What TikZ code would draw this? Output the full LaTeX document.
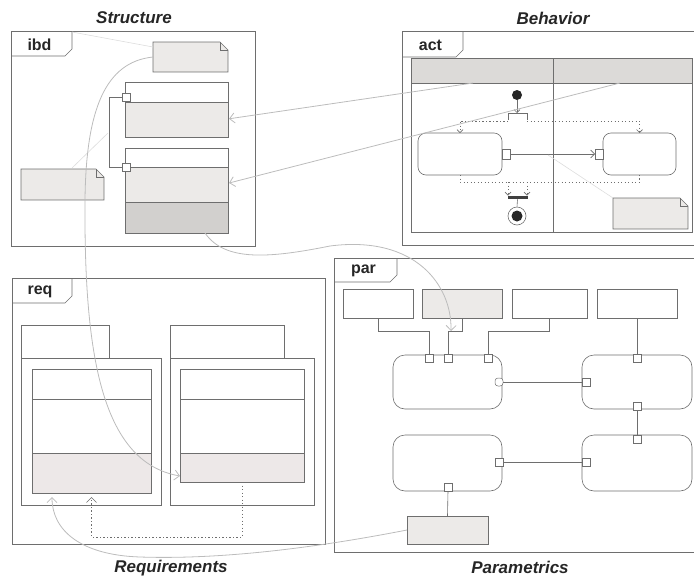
\documentclass[tikz,border=0pt]{standalone}
\usepackage{fontspec}
\setmainfont{Liberation Sans}
\usetikzlibrary{calc,arrows.meta}

\definecolor{ink}{HTML}{6E6E6E}
\definecolor{lite}{HTML}{ECEAE8}
\definecolor{shade}{HTML}{D2D0CE}
\definecolor{band}{HTML}{DCDAD8}
\definecolor{reqfill}{HTML}{EDE8E8}
\definecolor{tracec}{HTML}{BCBCBC}
\definecolor{faintc}{HTML}{DDDDDD}

\tikzset{
  blk/.style={draw=ink, line width=0.6pt, inner sep=0pt, outer sep=0pt, anchor=north west, rectangle},
  frm/.style={draw=ink, line width=0.6pt},
  wire/.style={draw=ink, line width=0.6pt},
  dots/.style={draw=ink, line width=0.7pt, dash pattern=on 1.2pt off 2.3pt},
  port/.style={draw=ink, fill=white, line width=0.5pt, minimum size=8pt, inner sep=0pt, outer sep=0pt, rectangle},
  tracearrow/.style={draw=tracec, line width=0.8pt, -{Straight Barb[length=5pt,width=10pt]}},
  smallarrow/.style={-{Straight Barb[length=3pt,width=6pt]}},
  faint/.style={draw=faintc, line width=0.6pt},
  titletext/.style={font=\fontsize{17}{17}\selectfont\bfseries\itshape, text=black!85},
  tabtext/.style={font=\fontsize{16}{16}\selectfont\bfseries, text=black!85},
}

% rectangle node given by its corners: [options]{name}{x1}{y1}{x2}{y2}
\newcommand\rectnode[6][]{%
  \node[blk, minimum width={(#5-#3)*1pt}, minimum height={(#6-#4)*1pt}, #1] (#2) at (#3,#4) {};}

% note with a folded corner
\newcommand\notenode[5]{%
  \node[blk, draw=none, fill=lite, minimum width={(#4-#2)*1pt}, minimum height={(#5-#3)*1pt}] (#1) at (#2,#3) {};
  \fill[white] (#1.north east) -- ++(-8,0) -- ++(8,8) -- cycle;
  \draw[ink, line width=0.6pt] (#1.north west) -- ($(#1.north east)+(-8,0)$) -- ($(#1.north east)+(0,8)$)
     -- (#1.south east) -- (#1.south west) -- cycle;
  \draw[ink, line width=0.5pt] ($(#1.north east)+(-8,0)$) -- ++(0,8) -- ++(8,0);}

% diagram frame with its name tab: {name}{x1}{y1}{x2}{y2}{tab w}{tab h}{label}
\newcommand\diagframe[8]{%
  \rectnode{#1}{#2}{#3}{#4}{#5}
  \draw[frm] (#2,#3+#7) -- (#2+#6-7,#3+#7) -- (#2+#6,#3+#7-7) -- (#2+#6,#3);
  \node[tabtext] (#1-label) at (#2+#6/2-2,#3+#7/2+1) {#8};}

\begin{document}
\begin{tikzpicture}[x=1pt, y=-1pt]
\useasboundingbox (0,0) rectangle (694,579);

% ---------------- titles ----------------
\node[titletext] (tStruct) at (134,18) {Structure};
\node[titletext] (tBehav)  at (553,18) {Behavior};
\node[titletext] (tReq)    at (171,568) {Requirements};
\node[titletext] (tPar)    at (520,567) {Parametrics};

% ---------------- ibd ----------------
\diagframe{ibd}{11}{31}{255}{246}{61}{25}{ibd}
\notenode{nTop}{153}{42}{228}{72}
\rectnode{blkA}{125}{82}{228}{137}
\rectnode[fill=lite]{blkAlo}{125}{102}{228}{137}
\rectnode{blkB}{125}{148}{228}{233}
\rectnode[fill=lite]{blkBmid}{125}{167}{228}{202}
\rectnode[fill=shade]{blkBlo}{125}{202}{228}{233}
\node[port] (pA) at (126,97) {};
\node[port] (pB) at (126,167) {};
\draw[wire] (pA.west) -- ++(-13,0) |- (pB.west);
\notenode{nLeft}{21}{169}{104}{200}
\coordinate (tabTop) at (72,32);
\coordinate (linkMid) at (108,133);
\coordinate (nLeftTop) at (72,168);
\draw[faint] (tabTop) -- ($(nTop.west)+(0,-10)$);
\draw[faint] (nLeftTop) -- (linkMid);

% ---------------- act ----------------
\diagframe{act}{402}{31}{700}{245}{61}{26}{act}
\rectnode{lanes}{411}{58}{692}{232}
\rectnode[fill=band]{laneL}{411}{58}{553}{83}
\rectnode[fill=band]{laneR}{553}{58}{692}{83}
\draw[wire] (laneL.north east) -- (laneL.north east |- lanes.south);

\node[circle, fill=black!85, minimum size=10pt, inner sep=0pt] (init) at (517,95) {};
\coordinate (forkL) at (508,113);
\coordinate (forkR) at (527,113);
\draw[wire, smallarrow] (init.south) -- (517,113);
\draw[wire] ($(forkL)+(0,7)$) -- (forkL) -- (forkR) -- ($(forkR)+(0,7)$);

\rectnode[rounded corners=8pt]{act1}{418}{133}{502}{175}
\rectnode[rounded corners=8pt]{act2}{603}{133}{676}{175}
\node[port, minimum width=8pt, minimum height=10pt] (pin1) at (506,154) {};
\node[port, minimum width=8pt, minimum height=10pt] (pin2) at (599,154) {};
\draw[wire, -{Straight Barb[length=4pt,width=8pt]}] (pin1.east) -- (pin2.west);

\draw[dots, smallarrow] ($(forkL)+(0,8)$) -| (act1.north);
\draw[dots, smallarrow] ($(forkR)+(0,8)$) -| (act2.north);
\draw[dots] (act1.south) -- ++(0,7) -| (act2.south);

\node[fill=black!75, minimum width=20pt, minimum height=3.5pt, inner sep=0pt] (join) at (517.5,197.5) {};
\draw[dots, smallarrow] (508,182) -- (508,195.5);
\draw[dots, smallarrow] (527,182) -- (527,195.5);
\node[circle, draw=ink, fill=white, line width=0.6pt, minimum size=18pt, inner sep=0pt] (fin) at (517,216) {};
\node[circle, fill=black!85, minimum size=11pt, inner sep=0pt] (finDot) at (fin) {};
\draw[wire] (join.south) -- (fin.north);

\notenode{nAct}{613}{198}{688}{229}
\coordinate (flowMid) at (548,155);
\draw[faint] (nAct.north west) -- (flowMid);

% allocations from the swimlanes to the blocks
\coordinate (laneAnchorL) at (473,83);
\coordinate (laneAnchorR) at (620,83);
\draw[tracearrow, shorten >=-2pt] (laneAnchorL) -- ($(blkAlo.east)+(3,-1)$);
\draw[tracearrow, shorten >=-2pt] (laneAnchorR) -- ($(blkBmid.east)+(3,-2)$);

% ---------------- req ----------------
\diagframe{req}{12}{278}{325}{544}{60}{25}{req}
\rectnode{rqAtab}{21}{325}{109}{358}
\rectnode{rqA}{21}{358}{161}{505}
\rectnode{rqAhd}{32}{369}{151}{399}
\rectnode{rqAmid}{32}{399}{151}{453}
\rectnode[fill=reqfill]{rqAlo}{32}{453}{151}{493}
\rectnode{rqBtab}{170}{325}{284}{358}
\rectnode{rqB}{170}{358}{314}{505}
\rectnode{rqBhd}{180}{369}{304}{399}
\rectnode{rqBmid}{180}{399}{304}{453}
\rectnode[fill=reqfill]{rqBlo}{180}{453}{304}{482}

\draw[dots, -{Straight Barb[length=5pt,width=10pt]}] (rqBlo.south) -- ++(0,55) -| ($(rqAlo.south)+(0,4)$);

% ---------------- par ----------------
\diagframe{par}{334}{258}{700}{552}{63}{24}{par}
\rectnode{pb1}{343}{289}{413}{318}
\rectnode[fill=lite]{pb2}{422}{289}{502}{318}
\rectnode{pb3}{512}{289}{587}{318}
\rectnode{pb4}{597}{289}{677}{318}

\rectnode[rounded corners=12pt]{c1}{393}{355}{502}{409}
\rectnode[rounded corners=12pt]{c2}{582}{355}{692}{409}
\rectnode[rounded corners=12pt]{c3}{393}{435}{502}{491}
\rectnode[rounded corners=12pt]{c4}{582}{435}{692}{491}
\rectnode[fill=lite]{b5}{407}{516}{488}{544}

\node[port] (c1p1) at (429,358) {};
\node[port] (c1p2) at (448,358) {};
\node[port] (c1p3) at (488,358) {};
\node[port, rounded corners=3pt] (c1pr) at (499,382) {};
\node[port] (c2pl) at (586,382) {};
\node[port] (c2pt) at (637,358) {};
\node[port] (c2pb) at (637,406) {};
\node[port] (c4pt) at (637,439) {};
\node[port] (c4pl) at (586,462) {};
\node[port] (c3pr) at (499,462) {};
\node[port] (c3pb) at (448,487) {};

\draw[wire] (pb1.south) -- ++(0,13) -| (c1p1.north);
\draw[wire] (pb2.south) -- ++(0,13) -| (c1p2.north);
\draw[wire] (pb3.south) -- ++(0,13) -| (c1p3.north);
\draw[wire] (pb4.south) -- (c2pt.north);
\draw[wire] (c1pr.east) -- (c2pl.west);
\draw[wire] (c2pb.south) -- (c4pt.north);
\draw[wire] (c3pr.east) -- (c4pl.west);
\draw[wire] (c3pb.south) -- (b5.north);

% ---------------- cross-diagram traces ----------------
\draw[tracearrow] (nTop.west) .. controls (105,62) and (86,110) .. (85,200)
   .. controls (84,350) and (100,462) .. ($(rqBlo.south west)+(0,-6)$);
\coordinate (blkBout) at (205,233);
\coordinate (parIn) at (451,331);
\draw[tracearrow] (blkBout) .. controls (225,262) and (270,258) .. (330,246)
   .. controls (415,235) and (452,285) .. (parIn);
\draw[tracearrow] (b5.west) .. controls (330,545) and (230,560) .. (140,557)
   .. controls (80,555) and (52,530) .. ($(rqAlo.south west)+(20,4)$);

\end{tikzpicture}
\end{document}
